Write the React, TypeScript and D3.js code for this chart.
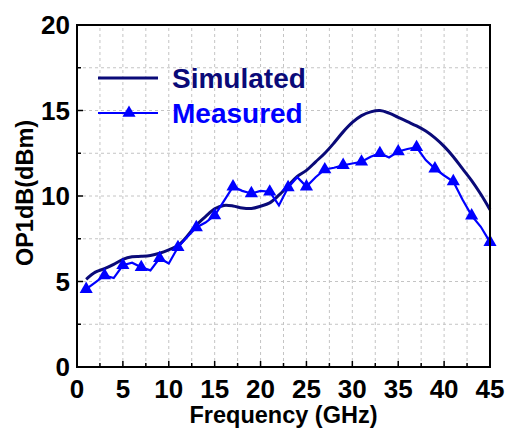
import React from "react";
import * as d3 from "d3";

// Frequency sweep (GHz)
const freqs: number[] = Array.from({ length: 45 }, (_, i) => i + 1);

// Simulated OP1dB (dBm) at each frequency
const simulated: number[] = [
  5.13, 5.55, 5.75, 6.0, 6.3, 6.45, 6.47, 6.52, 6.65, 6.85,
  7.1, 7.65, 8.3, 8.8, 9.25, 9.45, 9.42, 9.3, 9.27, 9.4,
  9.6, 10.05, 10.6, 11.15, 11.5, 12.0, 12.5, 13.1, 13.75, 14.3,
  14.7, 14.92, 15.0, 14.85, 14.6, 14.35, 14.1, 13.8, 13.4, 12.9,
  12.3, 11.6, 10.9, 10.1, 9.2,
];

// Measured OP1dB (dBm) at each frequency
const measured: number[] = [
  4.55, 4.95, 5.36, 5.2, 5.95, 6.1, 5.83, 5.65, 6.36, 6.05,
  7.0, 7.6, 8.16, 8.45, 8.86, 9.7, 10.55, 10.3, 10.15, 10.3,
  10.25, 9.45, 10.5, 11.1, 10.55, 11.1, 11.55, 11.65, 11.8, 11.9,
  12.0, 12.3, 12.5, 12.25, 12.6, 12.75, 12.85, 12.1, 11.6, 11.2,
  10.85, 9.8, 8.85, 8.2, 7.3,
];

const xTicks: number[] = [0, 5, 10, 15, 20, 25, 30, 35, 40, 45];
const yTicks: number[] = [0, 5, 10, 15, 20];
const seriesNames: string[] = ["Simulated", "Measured"];

const W = 509;
const H = 428;
const M = { left: 77, right: 19, top: 25, bottom: 61 };

const SIM_COLOR = "#0a0a78";
const MEAS_COLOR = "#0000ff";
const FONT = "'Liberation Sans', Arial, sans-serif";

export default function App() {
  const x = d3.scaleLinear().domain([0, 45]).range([M.left, W - M.right]);
  const y = d3.scaleLinear().domain([0, 20]).range([H - M.bottom, M.top]);

  const simPts: [number, number][] = freqs.map((f, i) => [f, simulated[i]]);
  const measPts: [number, number][] = freqs.map((f, i) => [f, measured[i]]);

  const simLine = d3
    .line<[number, number]>()
    .x((d) => x(d[0]))
    .y((d) => y(d[1]))
    .curve(d3.curveCatmullRom.alpha(0.5));
  const measLine = d3
    .line<[number, number]>()
    .x((d) => x(d[0]))
    .y((d) => y(d[1]));

  const tri = d3.symbol().type(d3.symbolTriangle).size(75)() as string;

  const gridX = d3.range(2.5, 45, 2.5);
  const gridY = d3.range(2.5, 20, 2.5);
  const minorX = d3.range(2.5, 45, 5);
  const minorY = d3.range(2.5, 20, 5);

  const x0 = x(0);
  const x1 = x(45);
  const y0 = y(0);
  const y1 = y(20);

  return (
    <svg
      width={W}
      height={H}
      style={{ position: "absolute", left: 0, top: 0, background: "#fff" }}
    >
      {/* dashed grid */}
      <g stroke="#c4c4c4" strokeWidth={1} strokeDasharray="3,3">
        {gridX.map((v) => (
          <line key={"gx" + v} x1={x(v)} x2={x(v)} y1={y0} y2={y1} />
        ))}
        {gridY.map((v) => (
          <line key={"gy" + v} x1={x0} x2={x1} y1={y(v)} y2={y(v)} />
        ))}
      </g>

      {/* series */}
      <path d={simLine(simPts) || ""} fill="none" stroke={SIM_COLOR} strokeWidth={3} />
      <path d={measLine(measPts) || ""} fill="none" stroke={MEAS_COLOR} strokeWidth={2.2} />
      {measPts
        .filter((_, i) => i % 2 === 0)
        .map((d) => (
          <path
            key={"m" + d[0]}
            d={tri}
            transform={`translate(${x(d[0])},${y(d[1])})`}
            fill={MEAS_COLOR}
          />
        ))}

      {/* ticks (inward) */}
      <g stroke="#000" strokeWidth={1.5}>
        {xTicks.map((v) => (
          <line key={"tx" + v} x1={x(v)} x2={x(v)} y1={y0} y2={y0 - 6} />
        ))}
        {minorX.map((v) => (
          <line key={"mx" + v} x1={x(v)} x2={x(v)} y1={y0} y2={y0 - 4} />
        ))}
        {yTicks.map((v) => (
          <line key={"ty" + v} x1={x0} x2={x0 + 6} y1={y(v)} y2={y(v)} />
        ))}
        {minorY.map((v) => (
          <line key={"my" + v} x1={x0} x2={x0 + 4} y1={y(v)} y2={y(v)} />
        ))}
      </g>

      {/* frame */}
      <rect
        x={x0}
        y={y1}
        width={x1 - x0}
        height={y0 - y1}
        fill="none"
        stroke="#000"
        strokeWidth={2}
      />

      {/* tick labels */}
      <g fontFamily={FONT} fontWeight="bold" fontSize={26} fill="#000">
        {xTicks.map((v) => (
          <text key={"lx" + v} x={x(v)} y={y0 + 31} textAnchor="middle">
            {v}
          </text>
        ))}
        {yTicks.map((v) => (
          <text key={"ly" + v} x={x0 - 7} y={y(v) + 9} textAnchor="end">
            {v}
          </text>
        ))}
      </g>

      {/* axis titles */}
      <text
        x={(x0 + x1) / 2}
        y={H - 5}
        textAnchor="middle"
        fontFamily={FONT}
        fontWeight="bold"
        fontSize={23.5}
      >
        Frequency (GHz)
      </text>
      <text
        transform={`translate(33,${(y0 + y1) / 2 - 3}) rotate(-90)`}
        textAnchor="middle"
        fontFamily={FONT}
        fontWeight="bold"
        fontSize={23.5}
      >
        OP1dB(dBm)
      </text>

      {/* legend */}
      <g fontFamily={FONT} fontWeight="bold" fontSize={28}>
        <line x1={98} x2={158} y1={78} y2={78} stroke={SIM_COLOR} strokeWidth={3} />
        <text x={172} y={88} fill={SIM_COLOR}>
          {seriesNames[0]}
        </text>
        <line x1={98} x2={158} y1={113} y2={113} stroke={MEAS_COLOR} strokeWidth={2.2} />
        <path d={tri} transform="translate(129,113)" fill={MEAS_COLOR} />
        <text x={172} y={123} fill={MEAS_COLOR}>
          {seriesNames[1]}
        </text>
      </g>
    </svg>
  );
}
